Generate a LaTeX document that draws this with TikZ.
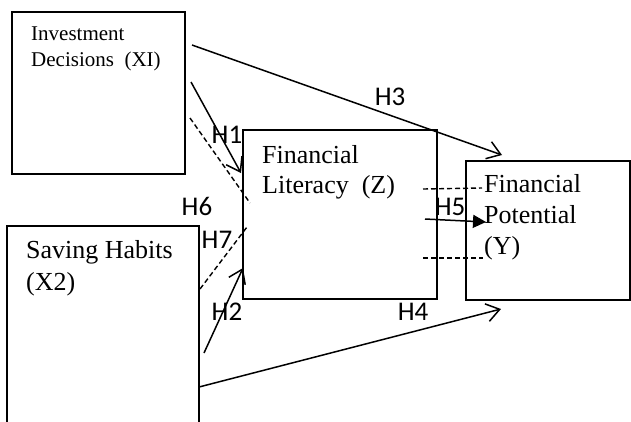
\documentclass[tikz,border=0pt]{standalone}
\usepackage{fontspec}
\setmainfont{Liberation Serif}
\newfontfamily\labfont{Carlito}
\usetikzlibrary{arrows.meta}
\tikzset{
  box/.style={draw, line width=1.4pt, inner sep=0pt},
  boxtxt/.style={anchor=base west, inner sep=0pt, font=\fontsize{26}{30}\selectfont},
  smalltxt/.style={anchor=base west, inner sep=0pt, font=\fontsize{21}{25}\selectfont},
  hlab/.style={inner sep=0pt, font=\labfont\fontsize{27}{30}\selectfont},
  conn/.style={line width=1.5pt},
  barb/.style={conn, -{Straight Barb[length=13pt,width=18pt,line width=1.5pt]}},
  tri/.style={conn, -{Triangle[length=13pt,width=13pt]}},
  dashline/.style={line width=1.4pt, dash pattern=on 5pt off 3pt},
}
\begin{document}
\begin{tikzpicture}[x=1pt,y=-1pt]
\useasboundingbox (0,0) rectangle (631,421);
\fill[white] (0,0) rectangle (631,421);
% boxes
\node[box, minimum width=173pt, minimum height=162pt] (xi) at (98.5,93) {};
\node[box, minimum width=194pt, minimum height=169pt] (z) at (340,214.5) {};
\node[box, minimum width=164pt, minimum height=139pt] (y) at (548,230.5) {};
\draw[line width=1.4pt] (7,423) -- (7,226) -- (199,226) -- (199,423);
\coordinate (x2) at (103,300);
% texts
\node[smalltxt] (t1) at (31,40) {Investment};
\node[smalltxt] (t2) at (31,66) {Decisions~ (XI)};
\node[boxtxt] (t3) at (262,163) {Financial};
\node[boxtxt] (t4) at (262,193) {Literacy~ (Z)};
\node[boxtxt] (t5) at (484,192) {Financial};
\node[boxtxt] (t6) at (484,223) {Potential};
\node[boxtxt] (t7) at (484,254) {(Y)};
\node[boxtxt] (t8) at (26,258) {Saving Habits};
\node[boxtxt] (t9) at (26,290) {(X2)};
% connector endpoints
\coordinate (h3s) at (192,45);
\coordinate (h3e) at (502,155);
\coordinate (h1s) at (191,82);
\coordinate (h1e) at (241,173);
\coordinate (h6s) at (190,118);
\coordinate (h6e) at (250,203);
\coordinate (h7s) at (200,289);
\coordinate (h7e) at (247,227);
\coordinate (h2s) at (204,353);
\coordinate (h2e) at (243,268);
\coordinate (h4s) at (199,387);
\coordinate (h4e) at (501,309);
\coordinate (h5s) at (425,219);
\coordinate (h5e) at (486,222);
\coordinate (d1s) at (423,189);
\coordinate (d1e) at (482,188);
\coordinate (d2s) at (423,258);
\coordinate (d2e) at (483,258);
% connectors
\draw[barb] (h3s) -- (h3e);
\draw[barb] (h1s) -- (h1e);
\draw[dashline] (h6s) -- (h6e);
\draw[dashline] (h7s) -- (h7e);
\draw[barb] (h2s) -- (h2e);
\draw[barb] (h4s) -- (h4e);
\draw[tri] (h5s) -- (h5e);
\draw[dashline] (d1s) -- (d1e);
\draw[dashline] (d2s) -- (d2e);
% labels
\node[hlab] (l1) at (227,135) {H1};
\node[hlab] (l2) at (227,312) {H2};
\node[hlab] (l3) at (390,97) {H3};
\node[hlab] (l4) at (413,312) {H4};
\node[hlab] (l5) at (450,207) {H5};
\node[hlab] (l6) at (197,206) {H6};
\node[hlab] (l7) at (217,240) {H7};
\end{tikzpicture}
\end{document}
